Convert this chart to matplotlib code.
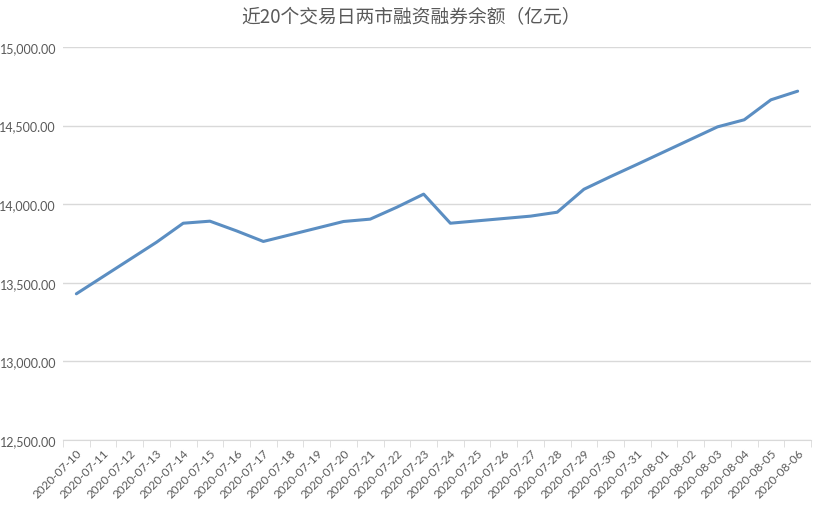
import matplotlib
matplotlib.use("Agg")
import matplotlib.pyplot as plt
import matplotlib.dates as mdates
import pandas as pd
from matplotlib.ticker import FuncFormatter, FixedLocator

plt.rcParams['font.family'] = ['Noto Sans CJK SC', 'DejaVu Sans']

title = "近20个交易日两市融资融券余额（亿元）"
axis_dates = pd.date_range("2020-07-10", "2020-08-06", freq="D")
trade_dates = ["2020-07-10", "2020-07-13", "2020-07-14", "2020-07-15", "2020-07-16",
               "2020-07-17", "2020-07-20", "2020-07-21", "2020-07-22", "2020-07-23",
               "2020-07-24", "2020-07-27", "2020-07-28", "2020-07-29", "2020-07-30",
               "2020-07-31", "2020-08-03", "2020-08-04", "2020-08-05", "2020-08-06"]
balance = [13430, 13758, 13879, 13892, 13830,
           13763, 13890, 13905, 13981, 14064,
           13879, 13924, 13949, 14095, 14176,
           14254, 14492, 14537, 14664, 14719]
y_ticks = [12500, 13000, 13500, 14000, 14500, 15000]

fig = plt.figure(figsize=(8.22, 5.06), dpi=100)
ax = fig.add_axes([63/822, 1-441/506, (811-63)/822, (441-48)/506])

td = pd.to_datetime(trade_dates)
ax.plot(td, balance, color="#5B8EC2", lw=2.2, solid_joinstyle="round", solid_capstyle="round")

x0 = mdates.date2num(axis_dates[0])
x1 = mdates.date2num(axis_dates[-1])
ax.set_xlim(x0 - 0.5, x1 + 0.5)
ax.set_ylim(y_ticks[0], y_ticks[-1])

ax.set_yticks(y_ticks)
ax.yaxis.set_major_formatter(FuncFormatter(lambda v, p: f"{v:,.2f}"))
ax.grid(axis="y", color="#D9D9D9", lw=1)
ax.set_axisbelow(True)

ax.set_xticks(mdates.date2num(axis_dates))
ax.set_xticklabels([d.strftime("%Y-%m-%d") for d in axis_dates], rotation=45,
                   ha="right", rotation_mode="anchor", fontsize=8.5, color="#595959",
                   family=["Lato"])
ax.tick_params(axis="x", which="major", length=0, pad=5)
ax.xaxis.set_minor_locator(FixedLocator([v - 0.5 for v in mdates.date2num(axis_dates)] + [x1 + 0.5]))
ax.tick_params(axis="x", which="minor", length=5, color="#D9D9D9")
ax.tick_params(axis="y", length=0, labelsize=9, labelcolor="#595959", pad=5)
for lbl in ax.get_yticklabels():
    lbl.set_family(["Lato"])

for s in ["top", "right", "left"]:
    ax.spines[s].set_visible(False)
ax.spines["bottom"].set_color("#D9D9D9")

fig.text(411/822, 1-18/506, title, ha="center", va="center", fontsize=13.5,
         color="#595959", fontweight="light")

fig.savefig("out.png", dpi=100)
